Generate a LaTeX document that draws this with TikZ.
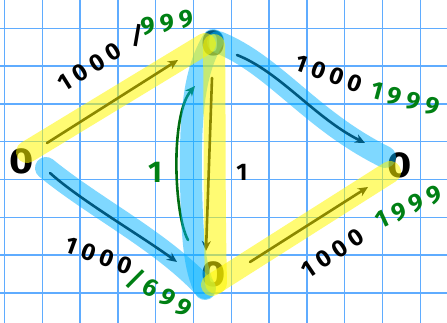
\documentclass[tikz,border=0pt]{standalone}
\usepackage{fontspec}
\setmainfont{Fira Sans}
\newfontfamily\hand{Fira Sans}[LetterSpace=22]
\usetikzlibrary{arrows.meta}
\definecolor{gridblue}{RGB}{95,172,255}
\definecolor{hlyellow}{RGB}{255,248,0}
\definecolor{hlblue}{RGB}{0,178,255}
\definecolor{greenink}{RGB}{0,128,20}
\begin{document}
\begin{tikzpicture}[x=1pt,y=-1pt,
  zero/.style={font=\fontsize{36}{36}\selectfont\bfseries, inner sep=0pt, xscale=1.15},
  arr/.style={line width=2.6pt, -{Stealth[length=10pt,width=9pt]}, line cap=round},
  hly/.style={line width=22pt, line cap=round, hlyellow, opacity=0.55},
  hlb/.style={line width=22pt, line cap=round, hlblue, opacity=0.5},
  lbl/.style={font=\hand\bfseries\fontsize{24}{24}\selectfont, inner sep=0pt},
  glbl/.style={font=\hand\bfseries\fontsize{25}{25}\selectfont, inner sep=0pt, text=greenink},
]
\fill[white] (0,0) rectangle (447,323);
\useasboundingbox (0,0) rectangle (447,323);
\foreach \i in {0,...,11} \draw[gridblue, line width=1.5pt] ({4.5+37.8*\i},0) -- ({4.5+37.8*\i},323);
\foreach \j in {0,...,7} \draw[gridblue, line width=1.5pt] (0,{28.3+37.8*\j}) -- (447,{28.3+37.8*\j});

% nodes
\node[zero] (L) at (22,161) {0};
\node[zero] (T) at (214,43) {0};
\node[zero] (R) at (400,165) {0};
\node[zero] (B) at (214,274) {0};

% arrow end points
\coordinate (ltS) at (47,143);  \coordinate (ltE) at (178,60);
\coordinate (trS) at (237,55);  \coordinate (trE) at (365,143);
\coordinate (lbS) at (50,173);  \coordinate (lbE) at (177,262);
\coordinate (brS) at (250,262); \coordinate (brE) at (368,187);
\coordinate (upS) at (188,240); \coordinate (upE) at (195,86);
\coordinate (dnS) at (212,78);  \coordinate (dnE) at (206,251);

\draw[arr] (ltS) -- (ltE);
\draw[arr] (trS) .. controls (280,72) and (315,118) .. (trE);
\draw[arr] (lbS) .. controls (80,200) and (140,235) .. (lbE);
\draw[arr] (brS) -- (brE);
\draw[arr, draw=greenink!85!black] (upS) .. controls (174,215) and (170,115) .. (upE);
\draw[arr] (dnS) -- (dnE);

% highlights
\draw[hlb] (218,42) .. controls (275,65) and (310,120) .. (385,157);
\draw[hlb] (46,168) .. controls (95,208) and (160,240) .. (205,288);
\draw[hlb] (213,40) .. controls (195,70) and (190,110) .. (191,180) .. controls (192,240) and (195,270) .. (205,289);
\draw[hly] (27,152) -- (205,44);
\draw[hly] (212,285) -- (390,172);
\draw[hly] (214,45) .. controls (215,120) and (214,200) .. (216,283);

% labels
\node[lbl, rotate=32] (a1) at (90,67) {1000};
\node[lbl, rotate=5] (a2) at (137,36) {/};
\node[glbl, rotate=10] (a3) at (167,23) {999};
\node[lbl, rotate=-20] (b1) at (329,74) {1000};
\node[glbl, rotate=-15] (b2) at (405,99) {1999};
\node[lbl, rotate=34] (c1) at (333,253) {1000};
\node[glbl, rotate=25] (c2) at (409,207) {1999};
\node[lbl, rotate=-20] (d1) at (99,256) {1000};
\node[glbl, rotate=-30] (d2) at (160,293) {/699};
\node[glbl, font=\hand\bfseries\fontsize{30}{30}\selectfont] (e1) at (155,172) {1};
\node[lbl] (e2) at (242,172) {1};
\end{tikzpicture}
\end{document}
